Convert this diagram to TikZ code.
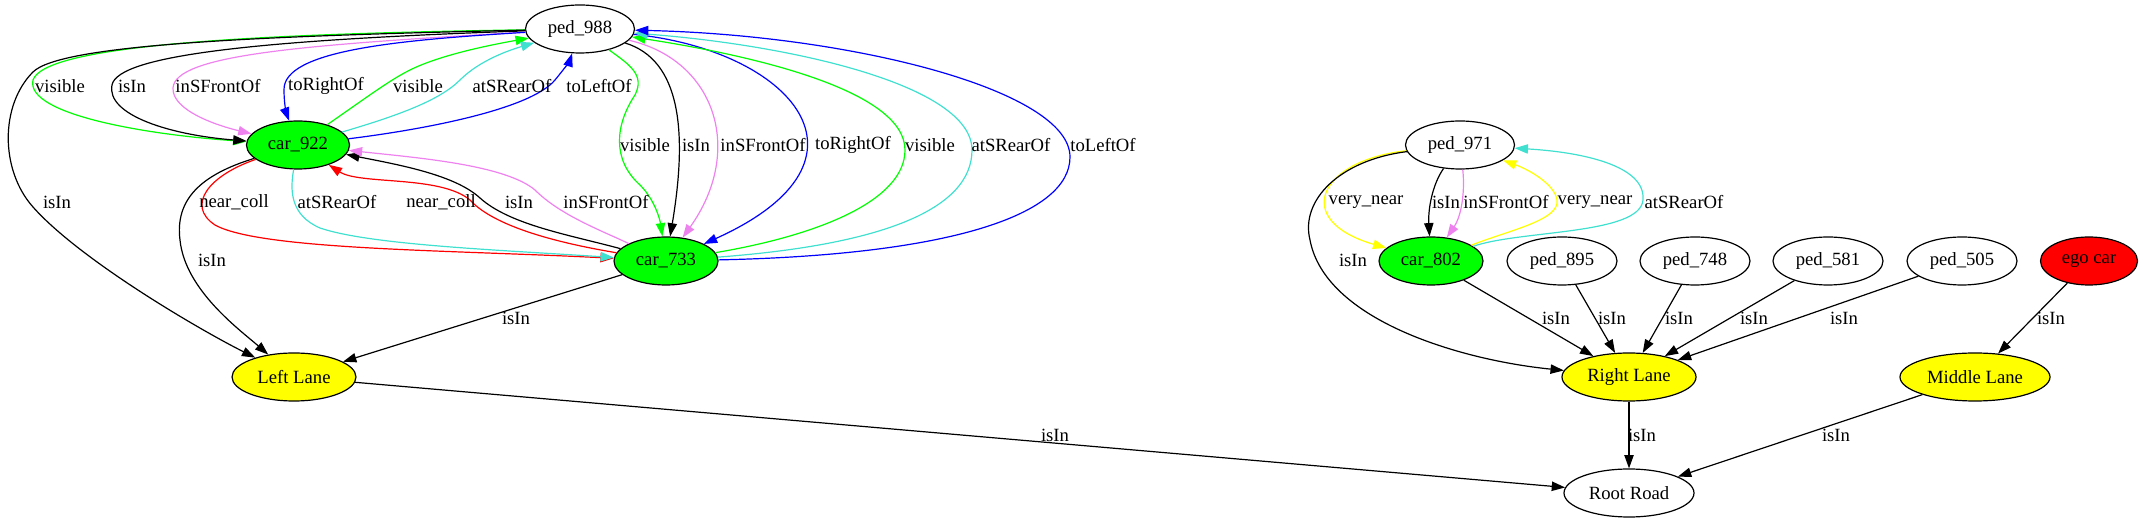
\documentclass[tikz,border=0pt]{standalone}
\usepackage{fontspec}
\setmainfont{Liberation Serif}
\usetikzlibrary{shapes.geometric,arrows.meta}
\definecolor{gvgreen}{RGB}{0,255,0}
\definecolor{gvturq}{RGB}{64,224,208}
\definecolor{gvviolet}{RGB}{238,130,238}
\definecolor{gvblue}{RGB}{0,0,255}
\definecolor{gvred}{RGB}{255,0,0}
\definecolor{gvyellow}{RGB}{255,255,0}
\tikzset{
  obj/.style={ellipse, draw=black, line width=0.9pt, inner sep=0pt, minimum height=36pt,
    font=\fontsize{14pt}{16pt}\selectfont},
  carnode/.style={obj, fill=gvgreen},
  lanenode/.style={obj, fill=gvyellow},
  egonode/.style={obj, fill=gvred},
  lbl/.style={inner sep=0pt, font=\fontsize{14pt}{16pt}\selectfont},
  rel/.style={line width=0.9pt, -{Triangle[length=10pt,width=7pt]}},
}
\begin{document}
\begin{tikzpicture}[x=0.75pt,y=-0.75pt]
\useasboundingbox (0,0) rectangle (2143,523);

% nodes
\node[obj, minimum width=81.75pt] (ped988) at (580,29) {ped\_988};
\node[carnode, minimum width=77.25pt] (car922) at (298,145) {car\_922};
\node[carnode, minimum width=78pt] (car733) at (666,261) {car\_733};
\node[lanenode, minimum width=93pt] (left) at (294,377) {Left Lane};
\node[obj, minimum width=81.75pt] (ped971) at (1460,145) {ped\_971};
\node[carnode, minimum width=78pt] (car802) at (1431,261) {car\_802};
\node[obj, minimum width=82.5pt] (ped895) at (1562,261) {ped\_895};
\node[obj, minimum width=82.5pt] (ped748) at (1695,261) {ped\_748};
\node[obj, minimum width=82.5pt] (ped581) at (1828,261) {ped\_581};
\node[obj, minimum width=82.5pt] (ped505) at (1962,261) {ped\_505};
\node[egonode, minimum width=72.75pt] (ego) at (2089,261) {ego car};
\node[lanenode, minimum width=100.5pt] (right) at (1629,377) {Right Lane};
\node[lanenode, minimum width=112.5pt] (middle) at (1975,377) {Middle Lane};
\node[obj, minimum width=97.5pt] (root) at (1629,493) {Root Road};

% ped_988 -> car_922
\draw[rel, gvgreen] (ped988) .. controls (250,34) and (45,45) .. (33,80) .. controls (25,115) and (150,135) .. (car922);
\draw[rel, black] (ped988) .. controls (260,40) and (118,55) .. (112,85) .. controls (106,115) and (170,135) .. (car922);
\draw[rel, gvviolet] (ped988) .. controls (300,45) and (175,55) .. (173,88) .. controls (172,110) and (215,125) .. (car922);
\draw[rel, gvblue] (ped988) .. controls (400,40) and (283,50) .. (284,90) .. controls (284,105) and (287,115) .. (car922);
% car_922 -> ped_988
\draw[rel, gvgreen] (car922) .. controls (370,95) and (390,80) .. (410,70) .. controls (440,55) and (490,45) .. (ped988);
\draw[rel, gvturq] (car922) .. controls (400,115) and (440,100) .. (460,80) .. controls (480,60) and (510,50) .. (ped988);
\draw[rel, gvblue] (car922) .. controls (420,130) and (530,110) .. (555,80) .. controls (565,68) and (570,60) .. (ped988);
% -> Left Lane
\draw[rel, black] (ped988) .. controls (250,36) and (60,45) .. (33,72) .. controls (0,105) and (0,170) .. (33,207) .. controls (80,260) and (200,330) .. (left);
\draw[rel, black] (car922) .. controls (200,175) and (175,200) .. (180,240) .. controls (185,290) and (240,330) .. (left);
% car_922 -> car_733
\draw[rel, gvred] (car922) .. controls (210,175) and (185,205) .. (215,225) .. controls (260,250) and (450,250) .. (car733);
\draw[rel, gvturq] (car922) .. controls (290,190) and (290,215) .. (320,228) .. controls (370,245) and (500,250) .. (car733);
% car_733 -> car_922
\draw[rel, gvred] (car733) .. controls (540,240) and (490,222) .. (470,200) .. controls (440,175) and (360,185) .. (car922);
\draw[rel, black] (car733) .. controls (570,235) and (510,225) .. (480,198) .. controls (455,175) and (400,165) .. (car922);
\draw[rel, gvviolet] (car733) .. controls (600,230) and (560,215) .. (535,190) .. controls (505,165) and (420,158) .. (car922);
% ped_988 -> car_733
\draw[rel, gvgreen] (ped988) .. controls (630,65) and (645,75) .. (635,95) .. controls (615,125) and (612,160) .. (640,185) .. controls (655,200) and (660,220) .. (car733);
\draw[rel, black] (ped988) .. controls (680,60) and (688,130) .. (car733);
\draw[rel, gvviolet] (ped988) .. controls (715,60) and (745,150) .. (car733);
\draw[rel, gvblue] (ped988) .. controls (790,50) and (890,160) .. (car733);
% car_733 -> ped_988
\draw[rel, gvgreen] (car733) .. controls (820,235) and (905,200) .. (905,150) .. controls (905,90) and (750,55) .. (ped988);
\draw[rel, gvturq] (car733) .. controls (880,245) and (972,210) .. (972,150) .. controls (972,85) and (790,45) .. (ped988);
\draw[rel, gvblue] (car733) .. controls (950,255) and (1070,215) .. (1070,157) .. controls (1070,90) and (850,35) .. (ped988);
% lanes
\draw[rel] (car733) -- (left);
\draw[rel] (left) -- (root);

% right cluster
\draw[rel, gvyellow] (ped971) .. controls (1320,160) and (1290,220) .. (car802);
\draw[rel, black] (ped971) .. controls (1432,185) and (1428,210) .. (car802);
\draw[rel, gvviolet] (ped971) .. controls (1465,190) and (1462,215) .. (car802);
\draw[rel, gvyellow] (car802) .. controls (1510,230) and (1560,220) .. (1557,200) .. controls (1555,185) and (1530,170) .. (ped971);
\draw[rel, gvturq] (car802) .. controls (1520,230) and (1640,235) .. (1643,200) .. controls (1646,165) and (1580,152) .. (ped971);
\draw[rel] (ped971) .. controls (1340,160) and (1300,200) .. (1310,240) .. controls (1325,320) and (1460,360) .. (right);
\draw[rel] (car802) -- (right);
\draw[rel] (ped895) -- (right);
\draw[rel] (ped748) -- (right);
\draw[rel] (ped581) -- (right);
\draw[rel] (ped505) -- (right);
\draw[rel] (ego) -- (middle);
\draw[rel] (right) -- (root);
\draw[rel] (middle) -- (root);

% labels
\node[lbl] (a1) at (60,86) {visible};
\node[lbl] (a2) at (132,86) {isIn};
\node[lbl] (a3) at (218,86) {inSFrontOf};
\node[lbl] (a4) at (326,86) {toRightOf};
\node[lbl] (a5) at (418,86) {visible};
\node[lbl] (a6) at (512,86) {atSRearOf};
\node[lbl] (a7) at (599,86) {toLeftOf};
\node[lbl] (b1) at (645,145) {visible};
\node[lbl] (b2) at (696,145) {isIn};
\node[lbl] (b3) at (763,145) {inSFrontOf};
\node[lbl] (b4) at (853,145) {toRightOf};
\node[lbl] (b5) at (930,145) {visible};
\node[lbl] (b6) at (1011,145) {atSRearOf};
\node[lbl] (b7) at (1103,145) {toLeftOf};
\node[lbl] (c1) at (57,202) {isIn};
\node[lbl] (c2) at (234,202) {near\_coll};
\node[lbl] (c3) at (337,202) {atSRearOf};
\node[lbl] (c4) at (441,202) {near\_coll};
\node[lbl] (c5) at (519,202) {isIn};
\node[lbl] (c6) at (606,202) {inSFrontOf};
\node[lbl] (c7) at (212,260) {isIn};
\node[lbl] (c8) at (516,318) {isIn};
\node[lbl] (c9) at (1055,435) {isIn};
\node[lbl] (d1) at (1366,202) {very\_near};
\node[lbl] (d2) at (1446,202) {isIn};
\node[lbl] (d3) at (1506,202) {inSFrontOf};
\node[lbl] (d4) at (1595,202) {very\_near};
\node[lbl] (d5) at (1684,202) {atSRearOf};
\node[lbl] (d6) at (1353,260) {isIn};
\node[lbl] (e1) at (1556,318) {isIn};
\node[lbl] (e2) at (1612,318) {isIn};
\node[lbl] (e3) at (1679,318) {isIn};
\node[lbl] (e4) at (1754,318) {isIn};
\node[lbl] (e5) at (1844,318) {isIn};
\node[lbl] (e6) at (2051,318) {isIn};
\node[lbl] (f1) at (1642,435) {isIn};
\node[lbl] (f2) at (1836,435) {isIn};
\end{tikzpicture}
\end{document}
